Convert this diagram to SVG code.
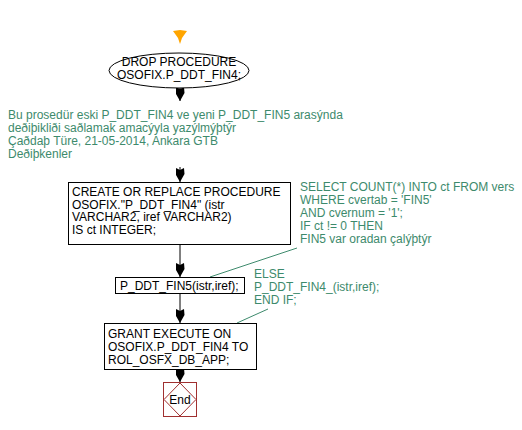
<svg xmlns="http://www.w3.org/2000/svg" width="522" height="430" viewBox="0 0 522 430">
<defs>
<style>
text{font-family:"Liberation Sans",Arial,sans-serif;font-size:12px;fill:#000}
.c{fill:#3d8a6c}
.box{fill:#fff;stroke:#000;stroke-width:1}
.ln{stroke:#000;stroke-width:1;fill:none}
.cl{stroke:#3d8a6c;stroke-width:1;fill:none}
</style>
<marker id="ah" viewBox="0 0 14 9" refX="14" refY="4.5" markerWidth="14" markerHeight="9" markerUnits="userSpaceOnUse" orient="auto">
<path d="M0,0.5 L6,0 L14,4.5 L6,9 L0,8.5 L2,4.5 Z" fill="#000"/>
</marker>
</defs>
<rect width="522" height="430" fill="#fff"/>
<g id="connectors">
<path d="M180,30 L187,31 L182,38 L180,44 L178,38 L173,31 Z" fill="#ffa500"/>
<line class="ln" x1="180" y1="88" x2="180" y2="101" marker-end="url(#ah)"/>
<line class="ln" x1="180" y1="167" x2="180" y2="182" marker-end="url(#ah)"/>
<line class="ln" x1="180" y1="245" x2="180" y2="277" marker-end="url(#ah)"/>
<line class="ln" x1="180" y1="293" x2="180" y2="323" marker-end="url(#ah)"/>
<line class="ln" x1="180" y1="369" x2="180" y2="382" marker-end="url(#ah)"/>
<line class="cl" x1="297" y1="248" x2="210" y2="277"/>
<line class="cl" x1="268" y1="309" x2="237" y2="323"/>
</g>
<g id="start">
<ellipse class="box" cx="179" cy="70.5" rx="70" ry="17.5"/>
<text x="179" y="66" text-anchor="middle">DROP PROCEDURE</text>
<text x="179" y="79" text-anchor="middle">OSOFIX.P_DDT_FIN4;</text>
</g>
<g id="comment1">
<text class="c" x="8" y="119">Bu prosedür eski P_DDT_FIN4 ve yeni P_DDT_FIN5 arasýnda</text>
<text class="c" x="8" y="132">deðiþikliði saðlamak amacýyla yazýlmýþtýr</text>
<text class="c" x="8" y="145">Çaðdaþ Türe, 21-05-2014, Ankara GTB</text>
<text class="c" x="8" y="158">Deðiþkenler</text>
</g>
<g id="create">
<rect class="box" x="68.500" y="182.500" width="222" height="62"/>
<text x="72" y="196">CREATE OR REPLACE PROCEDURE</text>
<text x="72" y="208.500">OSOFIX."P_DDT_FIN4" (istr</text>
<text x="72" y="221">VARCHAR2, iref VARCHAR2)</text>
<text x="72" y="233.500">IS ct INTEGER;</text>
</g>
<g id="comment2">
<text class="c" x="300" y="191">SELECT COUNT(*) INTO ct FROM vers</text>
<text class="c" x="300" y="204">WHERE cvertab = 'FIN5'</text>
<text class="c" x="300" y="217">AND cvernum = '1';</text>
<text class="c" x="300" y="230">IF ct != 0 THEN</text>
<text class="c" x="300" y="243">FIN5 var oradan çalýþtýr</text>
</g>
<g id="call">
<rect class="box" x="115.500" y="277.500" width="129" height="16"/>
<text x="120" y="290">P_DDT_FIN5(istr,iref);</text>
</g>
<g id="comment3">
<text class="c" x="254" y="278">ELSE</text>
<text class="c" x="254" y="291">P_DDT_FIN4_(istr,iref);</text>
<text class="c" x="254" y="304">END IF;</text>
</g>
<g id="grant">
<rect class="box" x="104.500" y="323.500" width="152" height="46"/>
<text x="108" y="338">GRANT EXECUTE ON</text>
<text x="108" y="351">OSOFIX.P_DDT_FIN4 TO</text>
<text x="108" y="364">ROL_OSFX_DB_APP;</text>
</g>
<g id="end">
<rect x="163.500" y="382.500" width="33" height="34" fill="#fff" stroke="#a03030"/>
<path d="M180,383 L196,399.500 L180,416 L164,399.500 Z" fill="none" stroke="#a03030"/>
<text x="180" y="404" text-anchor="middle">End</text>
</g>
</svg>
